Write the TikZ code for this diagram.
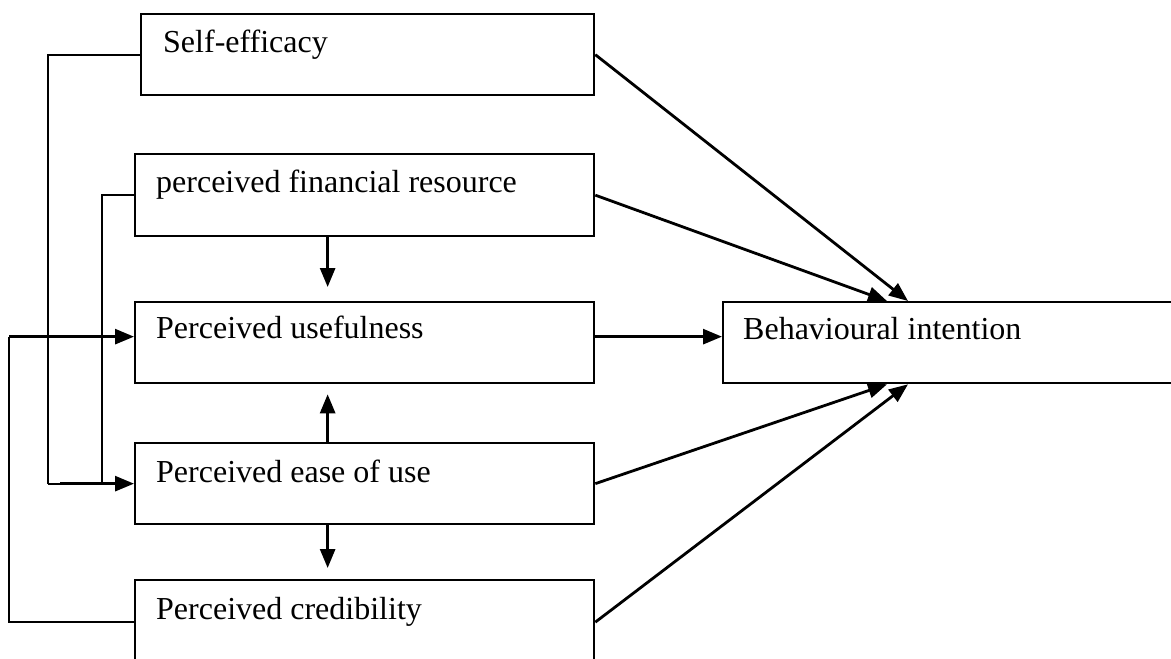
\documentclass[tikz,border=0pt]{standalone}
\usepackage{fontspec}
\setmainfont{Liberation Serif}
\usetikzlibrary{arrows.meta}
\begin{document}
\begin{tikzpicture}[x=1pt,y=-1pt,
  box/.style={draw, line width=2.3pt, anchor=north west, inner sep=0pt, minimum height=81pt},
  lbl/.style={anchor=base west, inner sep=0pt, font=\fontsize{32}{38}\selectfont},
  conn/.style={line width=2.2pt},
  arr/.style={line width=2.8pt, -{Triangle[length=19pt,width=15pt]}}]
\useasboundingbox (0,0) rectangle (1171,659);
\clip (0,0) rectangle (1171,659);
% boxes
\node[box, minimum width=453pt] (se) at (140,13) {};
\node[box, minimum width=459pt, minimum height=82pt] (fr) at (134,153) {};
\node[box, minimum width=459pt] (pu) at (134,301) {};
\node[box, minimum width=459pt] (pe) at (134,442) {};
\node[box, minimum width=459pt, minimum height=84pt] (pc) at (134,579) {};
\node[box, minimum width=470pt] (bi) at (722,301) {};
% labels
\node[lbl] (tse) at (163,52) {Self-efficacy};
\node[lbl] (tfr) at (156,192) {perceived financial resource};
\node[lbl] (tpu) at (156,338) {Perceived usefulness};
\node[lbl] (tpe) at (156,482) {Perceived ease of use};
\node[lbl] (tpc) at (156,619) {Perceived credibility};
\node[lbl] (tbi) at (743,339) {Behavioural intention};
% left-side connectors
\draw[conn] (se.west) -| ([xshift=-86pt]pe.west);
\draw[arr] ([xshift=-74pt]pe.west) -- (pe.west);
\draw[conn] ([xshift=-86pt]pe.west) -- ([xshift=-74pt]pe.west);
\draw[conn] (fr.west) -| ([xshift=-32pt]pe.west);
\draw[conn] (pc.west) -| ([xshift=-125pt,yshift=6pt]pu.west);
\draw[arr] ([xshift=-125pt,yshift=6pt]pu.west) -- ([yshift=6pt]pu.west);
% vertical arrows
\draw[arr] ([xshift=-37pt]fr.south) -- ([xshift=-37pt,yshift=14pt]pu.north);
\draw[arr] ([xshift=-37pt]pe.north) -- ([xshift=-37pt,yshift=-10pt]pu.south);
\draw[arr] ([xshift=-37pt]pe.south) -- ([xshift=-37pt,yshift=11pt]pc.north);
% arrows to behavioural intention
\draw[arr] ([yshift=6pt]pu.east) -- ([yshift=6pt]bi.west);
\draw[arr] (se.east) -- ([xshift=186pt]bi.north west);
\draw[arr] (fr.east) -- ([xshift=165pt]bi.north west);
\draw[arr] (pe.east) -- ([xshift=165pt]bi.south west);
\draw[arr] (pc.east) -- ([xshift=186pt]bi.south west);
\end{tikzpicture}
\end{document}
